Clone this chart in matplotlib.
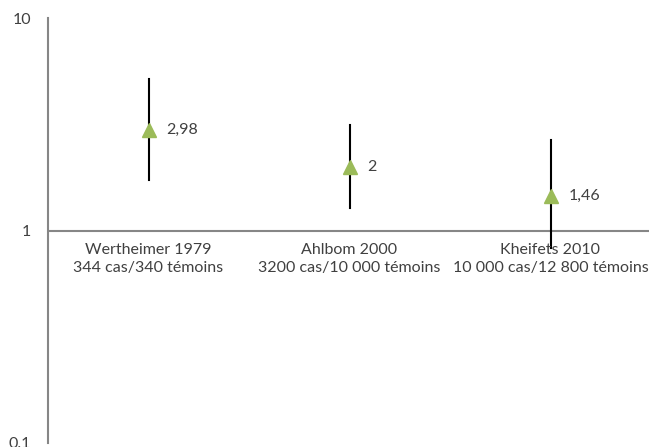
import matplotlib.pyplot as plt

studies = ['Wertheimer 1979\n344 cas/340 témoins',
           'Ahlbom 2000\n3200 cas/10 000 témoins',
           'Kheifets 2010\n10 000 cas/12 800 témoins']
odds_ratio = [2.98, 2.0, 1.46]
ci_low = [1.72, 1.27, 0.83]
ci_high = [5.18, 3.15, 2.68]
value_labels = ['2,98', '2', '1,46']

plt.rcParams['font.family'] = ['Lato', 'DejaVu Sans']

fig = plt.figure(figsize=(6.49, 4.47), dpi=100)
ax = fig.add_axes([48 / 649, 4 / 447, 603 / 649, 425 / 447])

x = list(range(len(studies)))
for i in x:
    ax.plot([i, i], [ci_low[i], ci_high[i]], color='black', lw=1.5, zorder=2)
ax.plot(x, odds_ratio, linestyle='none', marker='^', ms=10,
        color='#9BBB59', zorder=3)

for i in x:
    ax.annotate(value_labels[i], (i, odds_ratio[i]), xytext=(13, 0),
                textcoords='offset points', va='center', ha='left',
                fontsize=11.5, color='#404040')
    ax.annotate(studies[i], (i, 1), xytext=(0, -9),
                textcoords='offset points', va='top', ha='center',
                fontsize=11.5, color='#404040', linespacing=1.35)

ax.axhline(1, color='#868686', lw=1.5, zorder=1)

ax.set_yscale('log')
ax.set_ylim(0.1, 10)
ax.set_xlim(-0.5, 2.5)
ax.set_yticks([0.1, 1, 10])
ax.set_yticklabels(['0.1', '1', '10'])
ax.minorticks_off()
ax.tick_params(axis='y', length=0, pad=12, labelsize=11.5, labelcolor='#404040')
ax.set_xticks([])

for side in ['top', 'right', 'bottom']:
    ax.spines[side].set_visible(False)
ax.spines['left'].set_color('#868686')
ax.spines['left'].set_linewidth(1.5)

fig.savefig('out.png', dpi=100)
